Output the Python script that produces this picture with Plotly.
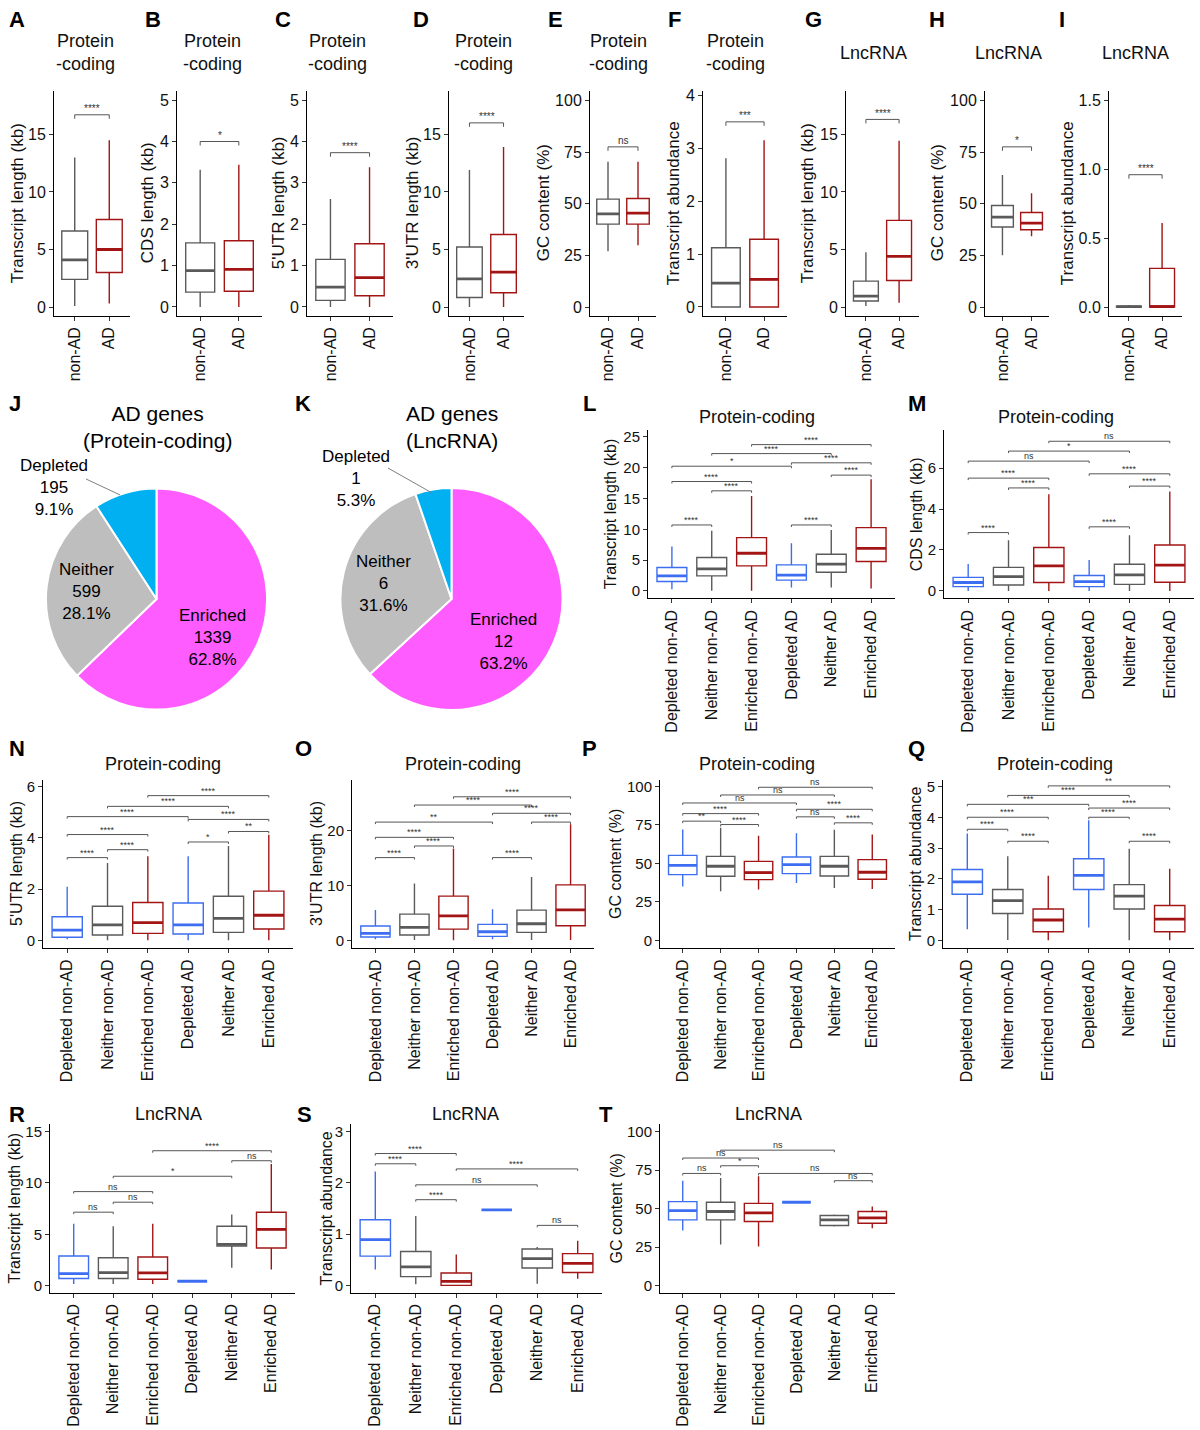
import plotly.graph_objects as go

W, H = 1200, 1430
FONT = "Liberation Sans, Arial, sans-serif"
GREY = "#5a5a5a"
RED = "#a31515"
BLUE = "#3d6ef2"

# ---------------- data ----------------
top_cats = ["non-AD", "AD"]
six_cats = ["Depleted non-AD", "Neither non-AD", "Enriched non-AD",
            "Depleted AD", "Neither AD", "Enriched AD"]
top_cols = [GREY, RED]
six_cols = [BLUE, GREY, RED, BLUE, GREY, RED]

# box stats: [lower whisker, Q1, median, Q3, upper whisker]
A_stats = [[0.1, 2.4, 4.1, 6.6, 13.0], [0.3, 3.0, 5.0, 7.6, 14.5]]
B_stats = [[0.0, 0.36, 0.88, 1.55, 3.32], [0.0, 0.38, 0.91, 1.60, 3.44]]
C_stats = [[0.0, 0.16, 0.48, 1.15, 2.61], [0.0, 0.27, 0.71, 1.53, 3.38]]
D_stats = [[0.0, 0.83, 2.45, 5.22, 11.9], [0.0, 1.24, 3.03, 6.3, 13.9]]
E_stats = [[27.0, 40.1, 45.1, 52.2, 70.3], [29.9, 40.1, 45.4, 52.5, 70.3]]
F_stats = [[0.0, 0.0, 0.45, 1.12, 2.81], [0.0, 0.0, 0.52, 1.28, 3.15]]
G_stats = [[0.1, 0.52, 0.95, 2.25, 4.76], [0.37, 2.3, 4.41, 7.53, 14.45]]
H_stats = [[25.0, 38.7, 43.5, 49.1, 63.9], [34.2, 37.4, 40.6, 45.7, 55.0]]
I_stats = [[0.0, 0.0, 0.003, 0.006, 0.015], [0.0, 0.0, 0.003, 0.28, 0.61]]

A_brk = [(0, 1, 16.7, "****")]
B_brk = [(0, 1, 4.0, "*")]
C_brk = [(0, 1, 3.73, "****")]
D_brk = [(0, 1, 16.0, "****")]
E_brk = [(0, 1, 77.5, "ns")]
F_brk = [(0, 1, 3.5, "***")]
G_brk = [(0, 1, 16.3, "****")]
H_brk = [(0, 1, 77.5, "*")]
I_brk = [(0, 1, 0.96, "****")]

L_stats = [[0.27, 1.5, 2.43, 3.78, 7.18], [0.0, 2.43, 3.56, 5.4, 9.77],
           [0.0, 4.05, 6.1, 8.64, 15.4], [0.54, 1.73, 2.54, 4.21, 7.72],
           [0.54, 3.02, 4.32, 5.94, 9.88], [0.38, 4.75, 6.91, 10.26, 18.14]]
L_brk = [(0, 1, 10.7, "****"), (1, 2, 16.25, "****"), (0, 2, 17.76, "****"),
         (0, 3, 20.25, "*"), (1, 4, 22.3, "****"), (2, 5, 23.76, "****"),
         (3, 4, 10.7, "****"), (4, 5, 18.8, "****"), (3, 5, 20.8, "****")]

M_stats = [[0, 0.21, 0.41, 0.66, 1.31], [0, 0.29, 0.70, 1.15, 2.48],
           [0, 0.41, 1.22, 2.12, 4.72], [0, 0.21, 0.45, 0.75, 1.51],
           [0, 0.32, 0.78, 1.30, 2.72], [0, 0.42, 1.26, 2.24, 4.86]]
M_brk = [(0, 1, 2.85, "****"), (1, 2, 5.03, "****"), (0, 2, 5.51, "****"),
         (0, 3, 6.34, "ns"), (1, 4, 6.83, "*"), (2, 5, 7.31, "ns"),
         (3, 4, 3.13, "****"), (4, 5, 5.12, "****"), (3, 5, 5.72, "****")]

N_stats = [[0.04, 0.12, 0.40, 0.92, 2.09], [0, 0.21, 0.60, 1.33, 3.02],
           [0, 0.27, 0.69, 1.48, 3.28], [0, 0.25, 0.60, 1.46, 3.28],
           [0, 0.31, 0.86, 1.72, 3.68], [0, 0.44, 0.98, 1.92, 4.12]]
N_brk = [(0, 1, 3.23, "****"), (1, 2, 3.54, "****"), (0, 2, 4.13, "****"),
         (0, 3, 4.83, "****"), (1, 4, 5.23, "****"), (2, 5, 5.65, "****"),
         (3, 4, 3.84, "*"), (4, 5, 4.25, "**"), (3, 5, 4.72, "****")]

O_stats = [[0.2, 0.6, 1.27, 2.6, 5.5], [0.06, 0.97, 2.36, 4.77, 10.33],
           [0, 2.05, 4.47, 8.04, 16.68], [0.2, 0.73, 1.57, 2.9, 5.68],
           [0.06, 1.45, 3.02, 5.5, 11.54], [0.06, 2.66, 5.56, 10.09, 21.09]]
O_brk = [(0, 1, 15.05, "****"), (1, 2, 17.16, "****"), (0, 2, 18.73, "****"),
         (0, 3, 21.5, "**"), (1, 4, 24.6, "****"), (2, 5, 26.1, "****"),
         (3, 4, 15.05, "****"), (4, 5, 21.5, "****"), (3, 5, 23.1, "****")]

P_stats = [[34.9, 42.7, 48.7, 55.2, 72.0], [31.9, 41.6, 48.1, 54.5, 73.1],
           [33.0, 39.4, 44.0, 51.3, 67.9], [37.3, 43.3, 49.1, 54.1, 69.6],
           [34.0, 41.8, 48.1, 54.5, 71.8], [33.4, 39.7, 44.2, 52.4, 68.8]]
P_brk = [(0, 1, 77.4, "**"), (1, 2, 75.2, "****"), (0, 2, 82.3, "****"),
         (0, 3, 89.2, "ns"), (1, 4, 94.4, "ns"), (2, 5, 99.4, "ns"),
         (3, 4, 80.2, "ns"), (4, 5, 76.3, "****"), (3, 5, 85.1, "****")]

Q_stats = [[0.36, 1.5, 1.9, 2.3, 3.47], [0.01, 0.87, 1.29, 1.65, 2.73],
           [0, 0.28, 0.66, 1.02, 2.1], [0.42, 1.65, 2.11, 2.65, 3.9],
           [0, 1.02, 1.44, 1.81, 2.98], [0, 0.28, 0.69, 1.13, 2.33]]
Q_brk = [(0, 1, 3.61, "****"), (1, 2, 3.22, "****"), (0, 2, 4.0, "****"),
         (0, 3, 4.42, "***"), (1, 4, 4.71, "****"), (2, 5, 5.02, "**"),
         (3, 4, 4.0, "****"), (4, 5, 3.22, "****"), (3, 5, 4.3, "****")]

R_stats = [[0.19, 0.71, 1.19, 2.9, 6.03], [0.19, 0.71, 1.29, 2.74, 5.8],
           [0.19, 0.65, 1.26, 2.8, 6.03], [0.45, 0.45, 0.45, 0.45, 0.45],
           [1.77, 3.87, 4.03, 5.8, 6.94], [1.58, 3.68, 5.48, 7.16, 11.84]]
R_brk = [(0, 1, 7.16, "ns"), (1, 2, 8.13, "ns"), (0, 2, 9.16, "ns"),
         (1, 4, 10.65, "*"), (4, 5, 12.16, "ns"), (2, 5, 13.13, "****")]

S_stats = [[0.31, 0.57, 0.89, 1.28, 2.22], [0.02, 0.17, 0.36, 0.66, 1.35],
           [0, 0, 0.08, 0.24, 0.6], [1.47, 1.47, 1.47, 1.47, 1.47],
           [0.03, 0.34, 0.52, 0.71, 0.75], [0.13, 0.25, 0.43, 0.62, 0.87]]
S_brk = [(0, 1, 2.37, "****"), (0, 2, 2.57, "****"), (1, 2, 1.67, "****"),
         (1, 4, 1.96, "ns"), (2, 5, 2.27, "****"), (4, 5, 1.17, "ns")]

T_stats = [[35.8, 42.7, 48.7, 54.5, 68.1], [26.7, 42.7, 48.1, 54.1, 69.8],
           [25.4, 41.6, 47.2, 53.4, 70.9], [54.1, 54.1, 54.1, 54.1, 54.1],
           [38.4, 39.0, 42.7, 45.5, 46.1], [37.3, 40.5, 44.0, 48.1, 51.3]]
T_brk = [(0, 1, 72.8, "ns"), (1, 2, 77.8, "*"), (0, 2, 82.8, "ns"),
         (1, 4, 87.9, "ns"), (2, 5, 72.8, "ns"), (4, 5, 68.1, "ns")]

# pies
pie_names = ["Enriched", "Neither", "Depleted"]
pie_colors = ["#ff5cff", "#bebebe", "#00b0f0"]
J_counts = [1339, 599, 195]
J_pct = ["62.8", "28.1", "9.1"]
K_counts = [12, 6, 1]
K_pct = ["63.2", "31.6", "5.3"]

# ---------------- panel layout config ----------------
PC = "Protein<br>-coding"
panels = [
    dict(s=A_stats, c=top_cats, col=top_cols, b=A_brk, box=(54, 130, 87, 313), yr=[-0.75, 18.8], yt=[0, 5, 10, 15],
         yl="Transcript length (kb)", ytx=17, title=PC, tx=85, ty=49, let="A", lx=17, ly=16),
    dict(s=B_stats, c=top_cats, col=top_cols, b=B_brk, box=(177, 262, 87, 313), yr=[-0.21, 5.23], yt=[0, 1, 2, 3, 4, 5],
         yl="CDS length (kb)", ytx=147, title=PC, tx=212, ty=49, let="B", lx=153, ly=16),
    dict(s=C_stats, c=top_cats, col=top_cols, b=C_brk, box=(307, 393, 87, 313), yr=[-0.21, 5.23], yt=[0, 1, 2, 3, 4, 5],
         yl="5'UTR length (kb)", ytx=278, title=PC, tx=337, ty=49, let="C", lx=283, ly=16),
    dict(s=D_stats, c=top_cats, col=top_cols, b=D_brk, box=(449, 524, 87, 313), yr=[-0.75, 18.8], yt=[0, 5, 10, 15],
         yl="3'UTR length (kb)", ytx=412, title=PC, tx=483, ty=49, let="D", lx=421, ly=16),
    dict(s=E_stats, c=top_cats, col=top_cols, b=E_brk, box=(590, 656, 87, 313), yr=[-4.2, 104.7], yt=[0, 25, 50, 75, 100],
         yl="GC content (%)", ytx=543, title=PC, tx=618, ty=49, let="E", lx=555, ly=16),
    dict(s=F_stats, c=top_cats, col=top_cols, b=F_brk, box=(703, 787, 87, 313), yr=[-0.165, 4.09], yt=[0, 1, 2, 3, 4],
         yl="Transcript abundance", ytx=673, title=PC, tx=735, ty=49, let="F", lx=674, ly=16),
    dict(s=G_stats, c=top_cats, col=top_cols, b=G_brk, box=(846, 919, 87, 313), yr=[-0.75, 18.8], yt=[0, 5, 10, 15],
         yl="Transcript length (kb)", ytx=807, title="LncRNA", tx=873, ty=49, let="G", lx=813, ly=16),
    dict(s=H_stats, c=top_cats, col=top_cols, b=H_brk, box=(985, 1049, 87, 313), yr=[-4.2, 104.7], yt=[0, 25, 50, 75, 100],
         yl="GC content (%)", ytx=937, title="LncRNA", tx=1008, ty=49, let="H", lx=937, ly=16),
    dict(s=I_stats, c=top_cats, col=top_cols, b=I_brk, box=(1109, 1182, 87, 313), yr=[-0.063, 1.57], yt=[0, 0.5, 1.0, 1.5],
         ytt=["0.0", "0.5", "1.0", "1.5"],
         yl="Transcript abundance", ytx=1067, title="LncRNA", tx=1135, ty=49, let="I", lx=1062, ly=16),
    dict(s=L_stats, c=six_cats, col=six_cols, b=L_brk, box=(648, 895, 428, 597), yr=[-1.25, 26.1], yt=[0, 5, 10, 15, 20, 25],
         yl="Transcript length (kb)", ytx=610, title="Protein-coding", tx=757, ty=415, let="L", lx=589, ly=401),
    dict(s=M_stats, c=six_cats, col=six_cols, b=M_brk, box=(944, 1194, 428, 597), yr=[-0.37, 7.85], yt=[0, 2, 4, 6],
         yl="CDS length (kb)", ytx=916, title="Protein-coding", tx=1056, ty=415, let="M", lx=917, ly=401),
    dict(s=N_stats, c=six_cats, col=six_cols, b=N_brk, box=(43, 293, 779, 948), yr=[-0.3, 6.27], yt=[0, 2, 4, 6],
         yl="5'UTR length (kb)", ytx=17, title="Protein-coding", tx=163, ty=763, let="N", lx=17, ly=748),
    dict(s=O_stats, c=six_cats, col=six_cols, b=O_brk, box=(352, 594, 779, 948), yr=[-1.39, 29.2], yt=[0, 10, 20],
         yl="3'UTR length (kb)", ytx=317, title="Protein-coding", tx=463, ty=763, let="O", lx=303, ly=748),
    dict(s=P_stats, c=six_cats, col=six_cols, b=P_brk, box=(660, 895, 779, 948), yr=[-5.0, 104.3], yt=[0, 25, 50, 75, 100],
         yl="GC content (%)", ytx=616, title="Protein-coding", tx=757, ty=763, let="P", lx=589, ly=748),
    dict(s=Q_stats, c=six_cats, col=six_cols, b=Q_brk, box=(943, 1194, 779, 948), yr=[-0.25, 5.22], yt=[0, 1, 2, 3, 4, 5],
         yl="Transcript abundance", ytx=916, title="Protein-coding", tx=1055, ty=763, let="Q", lx=916, ly=748),
    dict(s=R_stats, c=six_cats, col=six_cols, b=R_brk, box=(50, 295, 1125, 1294), yr=[-0.65, 15.7], yt=[0, 5, 10, 15],
         yl="Transcript length (kb)", ytx=14, title="LncRNA", tx=168, ty=1115, let="R", lx=17, ly=1115),
    dict(s=S_stats, c=six_cats, col=six_cols, b=S_brk, box=(351, 602, 1125, 1294), yr=[-0.14, 3.14], yt=[0, 1, 2, 3],
         yl="Transcript abundance", ytx=326, title="LncRNA", tx=465, ty=1115, let="S", lx=304, ly=1115),
    dict(s=T_stats, c=six_cats, col=six_cols, b=T_brk, box=(660, 895, 1125, 1294), yr=[-4.5, 104.7], yt=[0, 25, 50, 75, 100],
         yl="GC content (%)", ytx=616, title="LncRNA", tx=768, ty=1115, let="T", lx=606, ly=1115),
]

fig = go.Figure()
layout = {}
shapes = []
annotations = []


def px(x):
    return x / W


def py(y):
    return 1 - y / H


def ann(text, x, y, size, bold=False, angle=0, color="#111111", xanchor="center", yanchor="middle"):
    annotations.append(dict(text=f"<b>{text}</b>" if bold else text, x=px(x), y=py(y), xref="paper", yref="paper",
                            showarrow=False, textangle=angle, xanchor=xanchor, yanchor=yanchor,
                            font=dict(family=FONT, size=size, color=color)))


for k, p in enumerate(panels):
    idx = k + 1
    sfx = "" if idx == 1 else str(idx)
    xa, ya = "x" + sfx, "y" + sfx
    top = len(p["c"]) == 2
    n = len(p["c"])
    for i, (st, col) in enumerate(zip(p["s"], p["col"])):
        fig.add_trace(go.Box(x=[i], lowerfence=[st[0]], q1=[st[1]], median=[st[2]], q3=[st[3]], upperfence=[st[4]],
                             width=0.75, whiskerwidth=0, fillcolor="white", line=dict(color=col, width=1.4),
                             boxpoints=False, xaxis=xa, yaxis=ya, showlegend=False, hoverinfo="skip"))
        fig.add_trace(go.Scatter(x=[i - 0.375, i + 0.375], y=[st[2], st[2]], mode="lines",
                                 line=dict(color=col, width=2.8), xaxis=xa, yaxis=ya,
                                 showlegend=False, hoverinfo="skip"))
    l, r, t, b = p["box"]
    tfs = 16 if top else 15
    layout["xaxis" + sfx] = dict(domain=[px(l), px(r)], range=[-0.6, n - 0.4], anchor=ya,
                                 tickmode="array", tickvals=list(range(n)), ticktext=p["c"], tickangle=-90,
                                 showline=True, linecolor="black", linewidth=1, ticks="outside", ticklen=4,
                                 tickcolor="#333", tickfont=dict(family=FONT, size=16, color="#111"),
                                 showgrid=False, zeroline=False, fixedrange=True)
    layout["yaxis" + sfx] = dict(domain=[py(b), py(t)], range=p["yr"], anchor=xa,
                                 tickmode="array", tickvals=p["yt"], ticktext=p.get("ytt", [str(v) for v in p["yt"]]),
                                 showline=True, linecolor="black", linewidth=1, ticks="outside", ticklen=4,
                                 tickcolor="#333", tickfont=dict(family=FONT, size=tfs, color="#111"),
                                 showgrid=False, zeroline=False, fixedrange=True)
    # significance brackets
    span = p["yr"][1] - p["yr"][0]
    tip = (4 if top else 2) * span / (b - t)
    for (i, j, yv, lab) in p["b"]:
        shapes.append(dict(type="path", path=f"M {i},{yv - tip} L {i},{yv} L {j},{yv} L {j},{yv - tip}",
                           xref=xa, yref=ya, line=dict(color="#555555", width=1)))
        annotations.append(dict(text=lab, x=(i + j) / 2, y=yv, xref=xa, yref=ya, showarrow=False,
                                yanchor="middle", yshift=6 if top else 5,
                                font=dict(family=FONT, size=10 if top else 9, color="#333")))
    # texts
    ymid = (t + b) / 2 if not top else 200
    ann(p["yl"], p["ytx"], ymid, 17 if top else 16, angle=-90)
    ann(p["title"], p["tx"], p["ty"], 18)
    ann(p["let"], p["lx"], p["ly"], 22, bold=True, color="black")

# ---------------- pies ----------------
pies = [(J_counts, J_pct, 156.5, 597.5, 111, "J", 15, "AD genes<br>(Protein-coding)", 157,
         [(212, 636), (86, 590), (54, 486)], ((86, 477), (120, 493))),
        (K_counts, K_pct, 451.5, 597.5, 111.5, "K", 303, "AD genes<br>(LncRNA)", 452,
         [(503, 640), (383, 582), (356, 476)], ((388, 466), (432, 491)))]
for counts, pct, cx, cy, rad, let, lx, ttl, ttx, lpos, lead in pies:
    fig.add_trace(go.Pie(values=counts, labels=pie_names, sort=False, direction="clockwise", rotation=0,
                         marker=dict(colors=pie_colors, line=dict(color="white", width=2)),
                         textinfo="none", hoverinfo="skip", showlegend=False,
                         domain=dict(x=[px(cx - rad), px(cx + rad)], y=[py(cy + rad), py(cy - rad)])))
    for name, cnt, pc, (x, y) in zip(pie_names, counts, pct, lpos):
        ann(f"{name}<br>{cnt}<br>{pc}%", x, y, 17, color="black")
    (x0, y0), (x1, y1) = lead
    shapes.append(dict(type="line", x0=px(x0), y0=py(y0), x1=px(x1), y1=py(y1), xref="paper", yref="paper",
                       line=dict(color="#808080", width=1)))
    ann(ttl, ttx, 425, 21, color="black")
    ann(let, lx, 401, 22, bold=True, color="black")

fig.update_layout(width=W, height=H, margin=dict(l=0, r=0, t=0, b=0), autosize=False,
                  paper_bgcolor="white", plot_bgcolor="white", font=dict(family=FONT, color="#111"),
                  shapes=shapes, annotations=annotations, showlegend=False, **layout)

fig.write_html("out.html", config={"displayModeBar": False, "staticPlot": True},
               post_script="document.body.style.margin='0';")
